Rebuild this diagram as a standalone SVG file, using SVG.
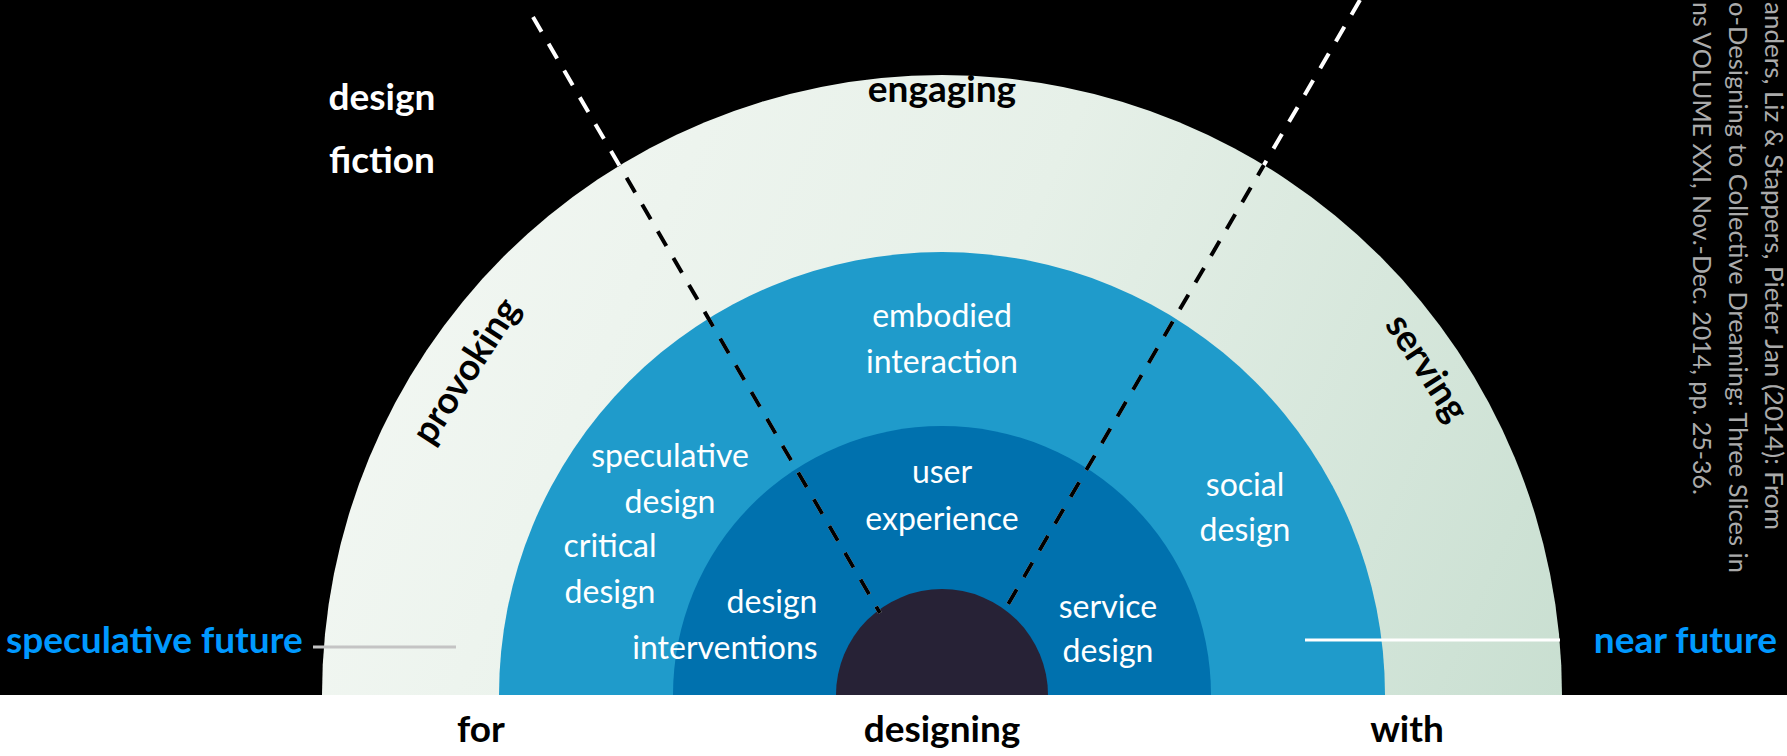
<svg xmlns="http://www.w3.org/2000/svg" width="1787" height="756" viewBox="0 0 1787 756">
<defs>
<linearGradient id="ringGrad" gradientUnits="userSpaceOnUse" x1="322" y1="150" x2="1562" y2="695">
<stop offset="0" stop-color="#F4F8F4"/>
<stop offset="0.5" stop-color="#E6F0E8"/>
<stop offset="1" stop-color="#C9DFD1"/>
</linearGradient>
<clipPath id="ringClip"><path d="M 322 695 A 620 620 0 0 1 1562 695 Z"/></clipPath>
<style>
.bold{font-family:Lato,"Open Sans","Liberation Sans",sans-serif;font-weight:700;font-size:37px}
.lbl{font-family:Lato,"Open Sans","Liberation Sans",sans-serif;font-weight:400;font-size:32px;fill:#FFFFFF;text-anchor:middle}
.cite{font-family:Lato,"Open Sans","Liberation Sans",sans-serif;font-weight:400;font-size:25px;fill:#ABABAB;text-anchor:start}
.dash{fill:none;stroke-width:4;stroke-dasharray:17 14}
</style>
</defs>
<rect x="0" y="0" width="1787" height="695" fill="#000000"/>
<rect x="0" y="695" width="1787" height="61" fill="#FFFFFF"/>

<g id="ring-outer">
<path d="M 322 695 A 620 620 0 0 1 1562 695 Z" fill="url(#ringGrad)"/>
<text class="bold" x="942" y="102" text-anchor="middle" fill="#000000">engaging</text>
<text class="bold" transform="translate(468,372) rotate(-57)" x="0" y="10" text-anchor="middle" fill="#000000">provoking</text>
<text class="bold" transform="translate(1425,369) rotate(57)" x="0" y="10" text-anchor="middle" fill="#000000">serving</text>
</g>
<g id="ring-middle">
<path d="M 499 695 A 443 443 0 0 1 1385 695 Z" fill="#1F9BCB"/>
<text class="lbl" x="942" y="327">embodied</text>
<text class="lbl" x="942" y="373">interaction</text>
<text class="lbl" x="670" y="467">speculative</text>
<text class="lbl" x="670" y="513">design</text>
<text class="lbl" x="610" y="557">critical</text>
<text class="lbl" x="610" y="603">design</text>
<text class="lbl" x="1245" y="496">social</text>
<text class="lbl" x="1245" y="541">design</text>
</g>
<g id="ring-inner">
<path d="M 673 695 A 269 269 0 0 1 1211 695 Z" fill="#0071AE"/>
<text class="lbl" x="942" y="483">user</text>
<text class="lbl" x="942" y="530">experience</text>
<text class="lbl" x="772" y="613">design</text>
<text class="lbl" x="725" y="659">interventions</text>
<text class="lbl" x="1108" y="618">service</text>
<text class="lbl" x="1108" y="662">design</text>
</g>
<g id="core">
<path d="M 836 695 A 106 106 0 0 1 1048 695 Z" fill="#272236"/>
</g>

<g id="connectors">
<line class="dash" x1="533" y1="17" x2="880" y2="613" stroke="#FFFFFF"/>
<line class="dash" x1="1360" y1="0" x2="1003" y2="613" stroke="#FFFFFF"/>
<g clip-path="url(#ringClip)">
<line class="dash" x1="533" y1="17" x2="880" y2="613" stroke="#000000"/>
<line class="dash" x1="1360" y1="0" x2="1003" y2="613" stroke="#000000"/>
</g>
<line x1="313" y1="647" x2="456" y2="647" stroke="#C4C4C4" stroke-width="3"/>
<line x1="1305" y1="640" x2="1560" y2="640" stroke="#FFFFFF" stroke-width="3"/>
</g>

<g id="label-design-fiction">
<text class="bold" x="382" y="110" text-anchor="middle" fill="#FFFFFF">design</text>
<text class="bold" x="382" y="173" text-anchor="middle" fill="#FFFFFF">fiction</text>
</g>
<g id="label-speculative-future">
<text class="bold" x="6" y="653" fill="#0099FF">speculative future</text>
</g>
<g id="label-near-future">
<text class="bold" x="1777" y="653" text-anchor="end" fill="#0099FF">near future</text>
</g>
<g id="label-bottom">
<text class="bold" x="481" y="742" text-anchor="middle" fill="#000000">for</text>
<text class="bold" x="942" y="742" text-anchor="middle" fill="#000000">designing</text>
<text class="bold" x="1407" y="742" text-anchor="middle" fill="#000000">with</text>
</g>
<g id="citation">
<text class="cite" transform="translate(1765,2) rotate(90)" x="0" y="0" textLength="528" lengthAdjust="spacingAndGlyphs">anders, Liz &amp; Stappers, Pieter Jan (2014): From</text>
<text class="cite" transform="translate(1729,2) rotate(90)" x="0" y="0" textLength="571" lengthAdjust="spacingAndGlyphs">o-Designing to Collective Dreaming: Three Slices in</text>
<text class="cite" transform="translate(1693,2) rotate(90)" x="0" y="0" textLength="493" lengthAdjust="spacingAndGlyphs">ns VOLUME XXI, Nov.-Dec. 2014, pp. 25-36.</text>
</g>
</svg>
